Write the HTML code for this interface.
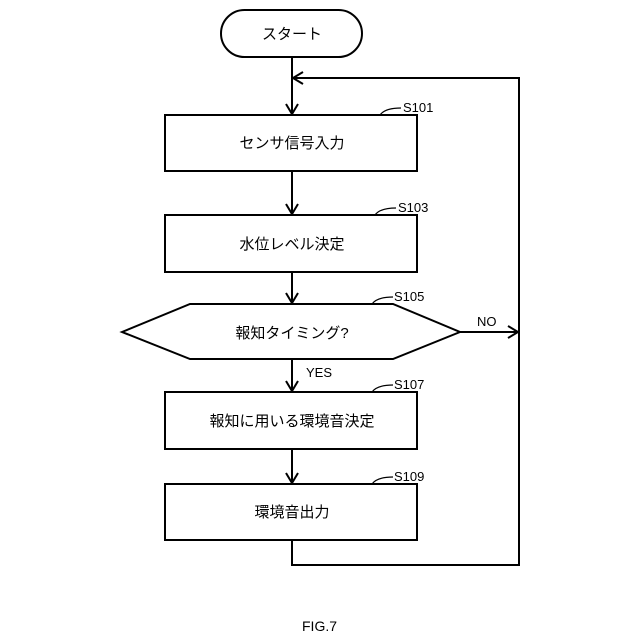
<!DOCTYPE html>
<html><head><meta charset="utf-8"><style>
html,body{margin:0;padding:0;background:#fff;}
svg{display:block;}
text{font-family:"Liberation Sans","Noto Sans CJK JP",sans-serif;fill:#000;}
</style></head><body>
<svg width="640" height="640" viewBox="0 0 640 640" xmlns="http://www.w3.org/2000/svg">
<g stroke="#000" stroke-width="2" fill="none">
<rect x="221" y="10" width="141" height="47" rx="23.5" ry="23.5"/>
<rect x="165" y="115" width="252" height="56"/>
<rect x="165" y="215" width="252" height="57"/>
<polygon points="122,332 190,304 393,304 460,332 393,359 190,359"/>
<rect x="165" y="392" width="252" height="57"/>
<rect x="165" y="484" width="252" height="56"/>
<line x1="292" y1="57" x2="292" y2="114"/>
<line x1="292" y1="171" x2="292" y2="214"/>
<line x1="292" y1="272" x2="292" y2="303"/>
<line x1="292" y1="359" x2="292" y2="391"/>
<line x1="292" y1="449" x2="292" y2="483"/>
<polyline points="292,540 292,565 519,565 519,78 293,78"/>
<line x1="460" y1="332" x2="518" y2="332"/>
<polyline points="286,104 292,114 298,104"/>
<polyline points="286,204 292,214 298,204"/>
<polyline points="286,293 292,303 298,293"/>
<polyline points="286,381 292,391 298,381"/>
<polyline points="286,473 292,483 298,473"/>
<polyline points="303,72 293,78 303,84"/>
<polyline points="508,326 518,332 508,338"/>
<g stroke-width="1.2">
<path d="M380,115 Q385,108 401,108"/>
<path d="M375,215 Q380,208 396,208"/>
<path d="M372,304 Q377,297 393,297"/>
<path d="M372,392 Q377,385 393,385"/>
<path d="M372,484 Q377,477 393,477"/>
</g>
</g>
<g font-size="15" text-anchor="middle">
<text x="292" y="39">スタート</text>
<text x="292" y="148">センサ信号入力</text>
<text x="292" y="249">水位レベル決定</text>
<text x="292" y="338">報知タイミング?</text>
<text x="292" y="426">報知に用いる環境音決定</text>
<text x="292" y="517">環境音出力</text>
</g>
<g font-size="13">
<text x="403" y="112">S101</text>
<text x="398" y="212">S103</text>
<text x="394" y="301">S105</text>
<text x="394" y="389">S107</text>
<text x="394" y="481">S109</text>
<text x="477" y="326">NO</text>
<text x="306" y="377">YES</text>
<text x="302" y="631" font-size="14">FIG.7</text>
</g>
</svg>
</body></html>
